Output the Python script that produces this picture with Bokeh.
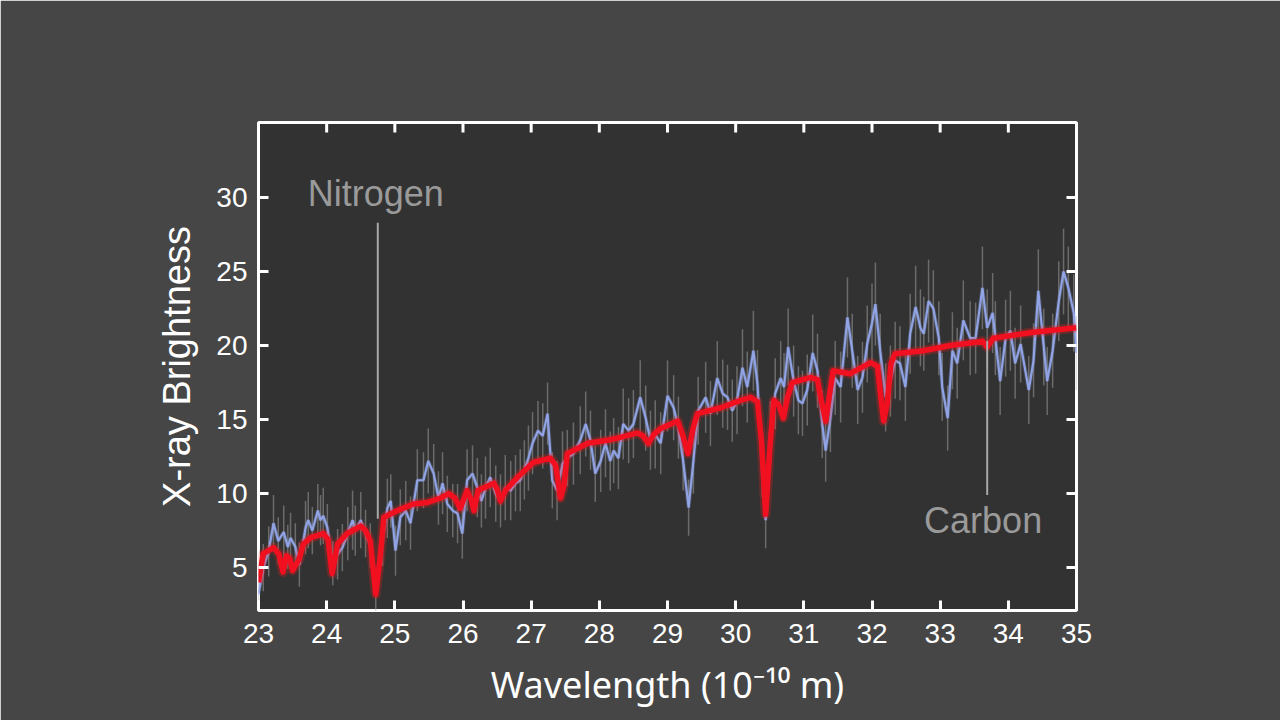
import math
from bokeh.plotting import figure
from bokeh.models import ColumnDataSource, FixedTicker, Range1d
from bokeh.core.properties import value
from bokeh.embed import file_html
from bokeh.resources import INLINE

FONT = "Liberation Sans, Noto Sans, DejaVu Sans"
XLABEL_FONT = "Noto Sans, DejaVu Sans"

# ---- observed spectrum (blue) ----
obs_wl = [23.00, 23.07, 23.15, 23.22, 23.29, 23.37, 23.43, 23.47, 23.54, 23.60,
          23.69, 23.73, 23.79, 23.87, 23.91, 23.95, 24.01, 24.09, 24.16, 24.23,
          24.31, 24.38, 24.42, 24.50, 24.57, 24.64, 24.72, 24.82, 24.89, 24.94,
          25.01, 25.08, 25.16, 25.23, 25.33, 25.42, 25.49, 25.57, 25.64, 25.70,
          25.77, 25.85, 25.92, 25.99, 26.06, 26.14, 26.21, 26.27, 26.33, 26.40,
          26.48, 26.55, 26.62, 26.70, 26.77, 26.84, 26.90, 26.96, 27.02, 27.10,
          27.17, 27.24, 27.31, 27.38, 27.46, 27.53, 27.62, 27.72, 27.80, 27.87,
          27.94, 28.02, 28.09, 28.16, 28.21, 28.28, 28.35, 28.43, 28.50, 28.60,
          28.68, 28.75, 28.82, 28.90, 29.00, 29.09, 29.16, 29.23, 29.31, 29.38,
          29.45, 29.56, 29.63, 29.73, 29.81, 29.88, 29.95, 30.02, 30.10, 30.17,
          30.26, 30.32, 30.39, 30.44, 30.51, 30.58, 30.66, 30.71, 30.77, 30.85,
          30.92, 30.98, 31.05, 31.13, 31.20, 31.27, 31.32, 31.39, 31.46, 31.54,
          31.64, 31.71, 31.79, 31.86, 31.93, 32.00, 32.05, 32.12, 32.20, 32.27,
          32.34, 32.41, 32.49, 32.56, 32.64, 32.71, 32.76, 32.83, 32.90, 32.98,
          33.03, 33.11, 33.18, 33.25, 33.34, 33.44, 33.52, 33.62, 33.69, 33.77,
          33.81, 33.88, 33.96, 34.03, 34.10, 34.18, 34.30, 34.37, 34.44, 34.52,
          34.57, 34.65, 34.74, 34.81, 34.88, 34.96, 35.00]
obs_flux = [3.2, 5.0, 6.1, 8.0, 6.8, 7.4, 6.4, 7.0, 6.4, 5.2,
            7.7, 8.2, 7.5, 8.85, 8.2, 8.5, 7.7, 5.3, 5.9, 6.35,
            7.3, 8.2, 7.5, 8.2, 7.3, 6.5, 3.2, 6.8, 9.0, 9.5,
            6.15, 8.4, 8.85, 8.0, 10.9, 10.9, 12.2, 11.35, 9.7, 10.7,
            9.3, 8.85, 8.65, 7.3, 10.9, 11.35, 10.4, 9.5, 10.4, 11.1,
            10.0, 9.5, 10.4, 10.2, 10.7, 10.9, 11.6, 12.4, 13.4, 14.25,
            13.9, 15.4, 10.9, 10.2, 12.0, 12.4, 12.7, 13.6, 14.7, 13.6,
            11.35, 12.2, 13.4, 12.2, 12.9, 12.4, 14.7, 14.25, 14.7, 16.5,
            15.1, 13.6, 14.0, 13.4, 16.6, 15.8, 14.45, 12.2, 9.05, 12.2,
            15.6, 16.5, 15.4, 17.8, 16.75, 16.5, 15.6, 16.3, 18.5, 17.2,
            19.65, 17.4, 11.75, 8.2, 14.05, 16.75, 17.8, 17.2, 19.9, 17.6,
            16.3, 16.1, 17.0, 19.5, 18.3, 14.7, 12.9, 15.1, 17.8, 17.2,
            21.9, 19.65, 17.0, 17.85, 20.1, 21.5, 22.8, 19.65, 16.5, 17.6,
            19.0, 18.8, 17.2, 20.8, 22.6, 21.2, 20.8, 23.0, 22.5, 20.5,
            17.2, 15.1, 19.65, 18.8, 21.7, 20.5, 20.5, 23.9, 21.2, 22.2,
            20.5, 17.6, 20.5, 21.0, 18.8, 20.1, 17.0, 19.0, 23.7, 19.9,
            17.6, 19.65, 23.0, 25.0, 23.9, 22.2, 19.5]
obs_err = [1.5, 1.6, 1.7, 1.9, 1.6, 1.8, 1.5, 1.7, 1.6, 1.5,
           1.8, 1.9, 1.6, 1.8, 1.7, 1.9, 1.6, 1.5, 1.7, 1.6,
           1.8, 2.0, 1.7, 1.9, 1.6, 1.5, 1.4, 1.7, 2.0, 1.8,
           1.7, 1.9, 2.0, 1.8, 2.1, 1.9, 2.2, 2.0, 1.8, 2.1,
           1.9, 1.8, 2.0, 1.7, 2.1, 1.9, 2.0, 1.8, 2.1, 2.0,
           1.9, 1.8, 2.2, 2.0, 1.9, 2.1, 2.0, 2.2, 2.1, 2.0,
           2.2, 2.1, 1.9, 2.0, 2.2, 1.9, 2.1, 2.3, 2.2, 2.0,
           1.9, 2.1, 2.3, 2.0, 2.2, 2.1, 2.4, 2.2, 2.3, 2.5,
           2.2, 2.0, 2.3, 2.1, 2.4, 2.2, 2.1, 2.0, 1.9, 2.2,
           2.3, 2.4, 2.2, 2.5, 2.3, 2.2, 2.1, 2.3, 2.6, 2.4,
           2.7, 2.3, 2.0, 1.9, 2.2, 2.4, 2.5, 2.3, 2.6, 2.4,
           2.3, 2.2, 2.4, 2.6, 2.5, 2.3, 2.1, 2.3, 2.5, 2.4,
           2.7, 2.5, 2.3, 2.4, 2.6, 2.7, 2.8, 2.5, 2.3, 2.4,
           2.6, 2.5, 2.3, 2.7, 2.8, 2.6, 2.5, 2.8, 2.6, 2.5,
           2.3, 2.2, 2.6, 2.4, 2.7, 2.5, 2.4, 2.8, 2.6, 2.7,
           2.5, 2.3, 2.6, 2.7, 2.4, 2.6, 2.3, 2.5, 2.8, 2.6,
           2.3, 2.5, 2.7, 2.9, 2.8, 2.6, 2.5]

# ---- model spectrum (red) ----
mod_wl = [23.00, 23.07, 23.22, 23.30, 23.36, 23.41, 23.46, 23.50, 23.59, 23.66,
          23.76, 23.95, 24.02, 24.08, 24.16, 24.30, 24.50, 24.57, 24.64, 24.72,
          24.78, 24.84, 25.04, 25.27, 25.48, 25.67, 25.79, 25.88, 25.96, 26.06,
          26.12, 26.16, 26.22, 26.45, 26.50, 26.55, 26.62, 26.80, 27.03, 27.28,
          27.36, 27.43, 27.48, 27.53, 27.83, 28.12, 28.31, 28.56, 28.64, 28.72,
          28.80, 28.90, 29.15, 29.22, 29.30, 29.38, 29.44, 29.78, 30.07, 30.22,
          30.32, 30.38, 30.44, 30.50, 30.56, 30.63, 30.70, 30.76, 30.83, 31.10,
          31.20, 31.26, 31.32, 31.38, 31.43, 31.68, 31.98, 32.08, 32.13, 32.17,
          32.22, 32.28, 32.34, 32.75, 33.15, 33.49, 33.62, 33.69, 33.78, 34.37,
          35.00]
mod_flux = [4.0, 5.95, 6.35, 5.9, 4.7, 5.8, 5.6, 4.8, 5.5, 6.6,
            7.0, 7.3, 6.9, 4.6, 6.6, 7.3, 7.8, 7.5, 6.8, 3.2,
            5.5, 8.4, 8.85, 9.3, 9.4, 9.7, 10.0, 9.7, 9.0, 10.2,
            9.6, 8.85, 10.2, 10.7, 10.3, 9.5, 10.2, 11.1, 12.1, 12.4,
            11.9, 9.7, 10.5, 12.7, 13.4, 13.6, 13.8, 14.1, 13.9, 13.4,
            14.0, 14.4, 14.9, 14.0, 12.7, 14.5, 15.4, 15.8, 16.3, 16.5,
            16.2, 13.5, 8.6, 13.0, 16.3, 16.0, 15.1, 16.5, 17.5, 17.85,
            17.7, 16.2, 14.9, 16.8, 18.3, 18.1, 18.85, 18.6, 16.5, 14.9,
            16.0, 18.8, 19.45, 19.65, 20.0, 20.2, 20.3, 19.9, 20.5, 20.9,
            21.2]

# ---- annotations ----
line_labels = ["Nitrogen", "Carbon"]
line_wl = [24.75, 33.69]
marker_top = [28.3, 20.3]
marker_bottom = [8.3, 9.9]
label_wl = [24.72, 33.63]
label_flux = [30.3, 8.2]

x_ticks = [23, 24, 25, 26, 27, 28, 29, 30, 31, 32, 33, 34, 35]
y_ticks = [5, 10, 15, 20, 25, 30]

X0, X1, Y0, Y1 = 23, 35, 2.1, 35.07

obs = ColumnDataSource(dict(
    x=obs_wl, y=obs_flux,
    lo=[f - e for f, e in zip(obs_flux, obs_err)],
    hi=[f + e for f, e in zip(obs_flux, obs_err)],
))
mod = ColumnDataSource(dict(x=mod_wl, y=mod_flux))

p = figure(
    width=1280, height=720,
    frame_width=818, frame_height=488,
    min_border_left=258, min_border_right=204,
    min_border_top=122, min_border_bottom=110,
    x_range=Range1d(X0, X1), y_range=Range1d(Y0, Y1),
    output_backend="svg", toolbar_location=None,
)
p.border_fill_color = "#464646"
p.background_fill_color = "#323232"
p.outline_line_color = "white"
p.outline_line_width = 3
p.grid.visible = False

# error bars
p.segment(x0="x", y0="lo", x1="x", y1="hi", source=obs,
          line_color="#9a9a9a", line_alpha=0.55, line_width=1.5)
# observed
p.line("x", "y", source=obs, line_color="#8fa3e6", line_width=4, line_alpha=0.25)
p.line("x", "y", source=obs, line_color="#93a7ea", line_width=2.2, line_alpha=0.95)
# model (with soft glow)
p.line("x", "y", source=mod, line_color="#ff1a1a", line_width=10, line_alpha=0.25,
       line_join="round")
p.line("x", "y", source=mod, line_color="#f01020", line_width=5.5, line_join="round")

# marker lines
p.segment(x0=line_wl, y0=marker_bottom, x1=line_wl, y1=marker_top,
          line_color="#a8a8a8", line_width=2)
p.text(x=label_wl, y=label_flux, text=line_labels, text_color="#9a9a9a",
       text_font=value(FONT), text_font_size="36px",
       text_align="center", text_baseline="middle")

# inward ticks on the top and right edges (clipped to the frame)
p.scatter(x=x_ticks, y=[Y1] * len(x_ticks), marker="dash", size=20,
          angle=math.pi / 2, line_color="white", line_width=3)
p.scatter(x=[X1] * len(y_ticks), y=y_ticks, marker="dash", size=20,
          line_color="white", line_width=3)

for ax in (p.xaxis[0], p.yaxis[0]):
    ax.axis_line_color = None
    ax.major_tick_in = 10
    ax.major_tick_out = 0
    ax.major_tick_line_color = "white"
    ax.major_tick_line_width = 3
    ax.minor_tick_line_color = None
    ax.major_label_text_color = "white"
    ax.major_label_text_font = FONT
    ax.major_label_text_font_size = "28px"
    ax.axis_label_text_color = "white"
    ax.axis_label_text_font = FONT
    ax.axis_label_text_font_size = "38px"
    ax.axis_label_text_font_style = "normal"

p.xaxis[0].axis_label_text_font = XLABEL_FONT
p.xaxis[0].axis_label_text_font_size = "36px"
p.xaxis[0].ticker = FixedTicker(ticks=x_ticks)
p.yaxis[0].ticker = FixedTicker(ticks=y_ticks)
p.xaxis[0].axis_label = "Wavelength (10\u207b\u00b9\u2070 m)"
p.yaxis[0].axis_label = "X-ray Brightness"
p.xaxis[0].major_label_standoff = 13
p.yaxis[0].major_label_standoff = 11
p.xaxis[0].axis_label_standoff = 14
p.yaxis[0].axis_label_standoff = 15

html = file_html(p, INLINE)
open("out.html", "w").write(html)
